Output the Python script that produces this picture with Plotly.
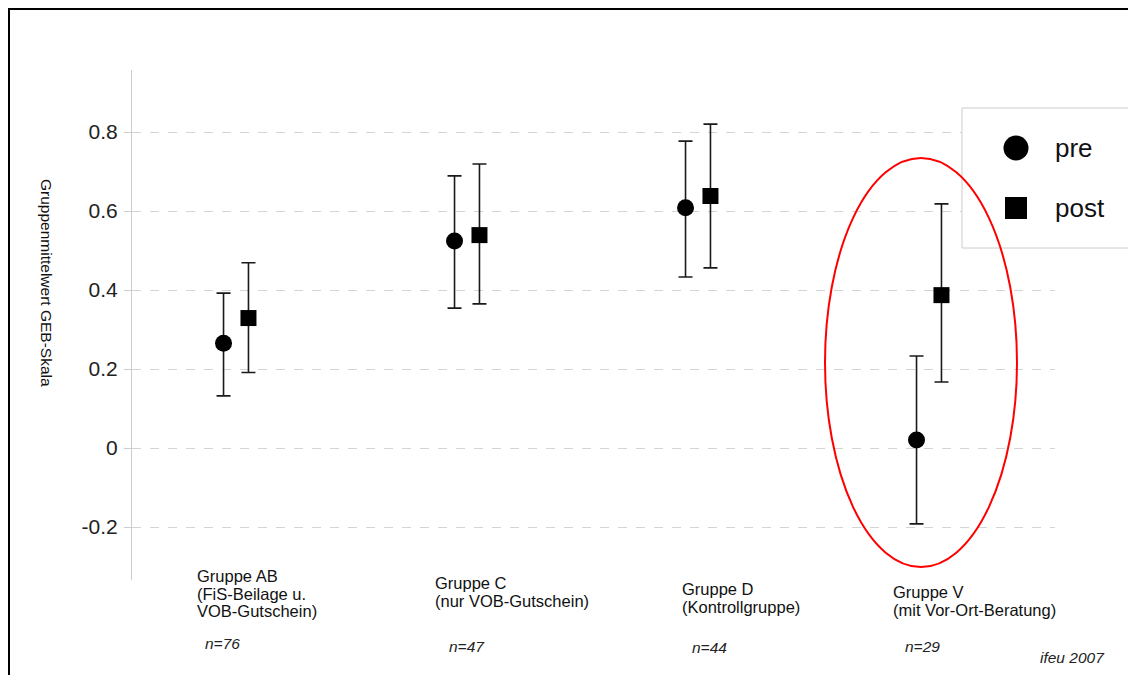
import plotly.graph_objects as go

# ---- data ----
groups = ["Gruppe AB", "Gruppe C", "Gruppe D", "Gruppe V"]
group_sub = [["(FiS-Beilage u.", "VOB-Gutschein)"], ["(nur VOB-Gutschein)"], ["(Kontrollgruppe)"], ["(mit Vor-Ort-Beratung)"]]
n_labels = ["n=76", "n=47", "n=44", "n=29"]

pre_mean = [0.265, 0.524, 0.608, 0.020]
pre_err_plus = [0.127, 0.165, 0.169, 0.213]
pre_err_minus = [0.133, 0.170, 0.175, 0.212]

post_mean = [0.329, 0.539, 0.638, 0.387]
post_err_plus = [0.140, 0.180, 0.182, 0.231]
post_err_minus = [0.138, 0.174, 0.182, 0.220]

y_ticks = [-0.2, 0, 0.2, 0.4, 0.6, 0.8]
y_tick_text = ["-0.2", "0", "0.2", "0.4", "0.6", "0.8"]

# ---- layout geometry (page offset of 8px from body margin) ----
OFF = 8
W, H = 1128, 667
L, R, T, B = 124, 81, 62, 95
PW, PH = W - L - R, H - T - B

def px(x):
    return (x - OFF - L) / PW

def py(y):
    return (H - B - (y - OFF)) / PH

FONT = "Liberation Sans, Arial, sans-serif"
offset = 0.054
xs = list(range(len(groups)))
x_pre = [x - offset for x in xs]
x_post = [x + offset for x in xs]

fig = go.Figure()
fig.add_trace(go.Scatter(
    x=x_pre, y=pre_mean, mode="markers", name="pre",
    marker=dict(symbol="circle", size=17, color="black"),
    error_y=dict(type="data", symmetric=False, array=pre_err_plus, arrayminus=pre_err_minus,
                 color="#1a1a1a", thickness=1.6, width=7),
    showlegend=False,
))
fig.add_trace(go.Scatter(
    x=x_post, y=post_mean, mode="markers", name="post",
    marker=dict(symbol="square", size=16, color="black"),
    error_y=dict(type="data", symmetric=False, array=post_err_plus, arrayminus=post_err_minus,
                 color="#1a1a1a", thickness=1.6, width=7),
    showlegend=False,
))

# page pixel -> data scales (group centre 0 at page x=236, 231px per group; y=0 at page y=448, 395px per unit)
x0 = -(236 - (OFF + L)) / 231
x1 = (OFF + L + PW - 236) / 231
y_top = (448 - (OFF + T)) / 395
y_bot = (448 - (OFF + H - B)) / 395

fig.update_layout(
    width=W, height=H,
    margin=dict(l=L, r=R, t=T, b=B),
    paper_bgcolor="white", plot_bgcolor="white",
    font=dict(family=FONT, color="#222222"),
    xaxis=dict(range=[x0, x1], visible=False),
    yaxis=dict(range=[y_bot, y_top], tickvals=y_ticks, ticktext=y_tick_text,
               tickfont=dict(size=21, color="#222222"), ticklabelstandoff=2,
               showgrid=True, gridcolor="#d4d4d4", griddash="dash", gridwidth=1,
               zeroline=False, showline=True, linecolor="#cccccc", linewidth=1,
               ticks="outside", ticklen=7, tickcolor="#cccccc"),
    showlegend=False,
)

annotations = []
# y-axis title (reads top to bottom)
annotations.append(dict(text="Gruppenmittelwert GEB-Skala", textangle=90,
                        x=px(47), y=py(283), xref="paper", yref="paper",
                        showarrow=False, font=dict(size=15.5, color="#111111"),
                        xanchor="center", yanchor="middle"))

label_x = [195, 433, 680, 891]
label_y = [576, 583, 589, 592]
line_step = 17.5
n_x = [203, 447, 690, 903]
n_y = [643, 646, 647, 646]
for i in range(len(groups)):
    lines = [groups[i]] + group_sub[i]
    for j, t in enumerate(lines):
        annotations.append(dict(text=t, x=px(label_x[i]), y=py(label_y[i] + j * line_step),
                                xref="paper", yref="paper", showarrow=False, align="left",
                                xanchor="left", yanchor="middle", font=dict(size=16.5, color="#111111")))
    annotations.append(dict(text="<i>" + n_labels[i] + "</i>", x=px(n_x[i]), y=py(n_y[i]),
                            xref="paper", yref="paper", showarrow=False,
                            xanchor="left", yanchor="middle", font=dict(size=15.5, color="#222222")))
annotations.append(dict(text="<i>ifeu 2007</i>", x=px(1038), y=py(657), xref="paper", yref="paper",
                        showarrow=False, xanchor="left", yanchor="middle",
                        font=dict(size=15.5, color="#222222")))
# legend text
annotations.append(dict(text="pre", x=px(1053), y=py(148), xref="paper", yref="paper", showarrow=False,
                        xanchor="left", yanchor="middle", font=dict(size=26, color="#111111")))
annotations.append(dict(text="post", x=px(1053), y=py(208), xref="paper", yref="paper", showarrow=False,
                        xanchor="left", yanchor="middle", font=dict(size=26, color="#111111")))
fig.update_layout(annotations=annotations)

shapes = []
# outer frame
shapes.append(dict(type="rect", xref="paper", yref="paper", x0=px(9), x1=px(1160), y0=py(9), y1=py(700),
                   line=dict(color="black", width=2), fillcolor="rgba(0,0,0,0)", layer="above"))
# legend box
shapes.append(dict(type="rect", xref="paper", yref="paper", x0=px(962), x1=px(1160), y0=py(248), y1=py(108),
                   line=dict(color="#cccccc", width=1), fillcolor="white", layer="above"))
shapes.append(dict(type="circle", xref="paper", yref="paper", x0=px(1003.5), x1=px(1028.5),
                   y0=py(160.5), y1=py(135.5), line=dict(color="black", width=0), fillcolor="black", layer="above"))
shapes.append(dict(type="rect", xref="paper", yref="paper", x0=px(1005), x1=px(1027),
                   y0=py(219), y1=py(197), line=dict(color="black", width=0), fillcolor="black", layer="above"))
# red ellipse highlighting Gruppe V
shapes.append(dict(type="circle", xref="x", yref="y",
                   x0=(825 - 236) / 231, x1=(1017 - 236) / 231,
                   y0=(448 - 567) / 395, y1=(448 - 158) / 395,
                   line=dict(color="red", width=2), layer="above"))
fig.update_layout(shapes=shapes)

fig.write_html("out.html")
